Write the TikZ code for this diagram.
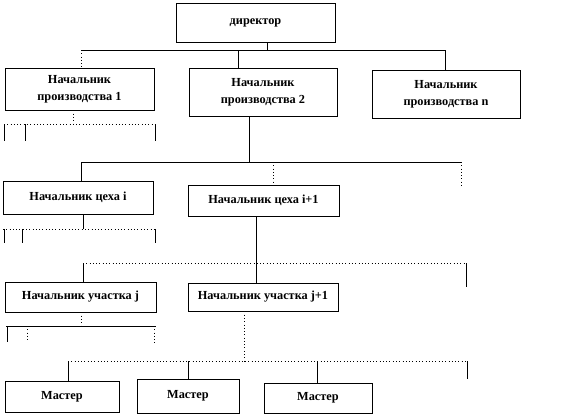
\documentclass[tikz,border=0pt]{standalone}
\usepackage{fontspec}
\setmainfont{Liberation Serif}

\begin{document}
\begin{tikzpicture}[
    x=0.03cm, y=-0.03cm,
    box/.style={draw, line width=0.7pt, align=center, inner sep=1pt,
        font=\bfseries\fontsize{10.5}{14.5}\selectfont},
    link/.style={draw, line width=0.8pt},
    dotlink/.style={draw, line width=0.8pt, dotted}
]
    \useasboundingbox (0,0) rectangle (578,416);

    % boxes
    \node[box, minimum width=4.77cm, minimum height=1.17cm] (dir) at (255.5,22.5) {директор};
    \node[box, minimum width=4.47cm, minimum height=1.26cm] (p1)  at (79.5,89)    {Начальник\\производства 1};
    \node[box, minimum width=4.44cm, minimum height=1.44cm] (p2)  at (263,92)     {Начальник\\производства 2};
    \node[box, minimum width=4.44cm, minimum height=1.44cm] (pn)  at (446,94)     {Начальник\\производства n};
    \node[box, minimum width=4.50cm, minimum height=0.99cm] (ci)  at (78,197.5)   {Начальник цеха i};
    \node[box, minimum width=4.53cm, minimum height=0.93cm] (ci1) at (263.5,200.5) {Начальник цеха i+1};
    \node[box, minimum width=4.53cm, minimum height=0.90cm] (uj)  at (80.5,297)   {Начальник участка j};
    \node[box, minimum width=4.50cm, minimum height=0.84cm] (uj1) at (263,297)    {Начальник участка j+1};
    \node[box, minimum width=3.42cm, minimum height=0.93cm] (m1)  at (62,396.5)   {Мастер};
    \node[box, minimum width=3.06cm, minimum height=1.02cm] (m2)  at (188,396)    {Мастер};
    \node[box, minimum width=3.24cm, minimum height=0.90cm] (m3)  at (318,398)    {Мастер};

    % director -> heads of production
    \coordinate (db) at (267,50);
    \coordinate (dl) at (81,50);
    \coordinate (dm) at (238,50);
    \coordinate (dr) at (445,50);
    \draw[link] (dir.south -| db) -- (db);
    \draw[link] (dl) -- (dr);
    \draw[dotlink] (dl) -- (dl |- p1.north);
    \draw[link] (dm) -- (dm |- p2.north);
    \draw[link] (dr) -- (dr |- pn.north);

    % stub under production 1
    \coordinate (p1s) at (73,124);
    \draw[dotlink] (p1.south -| p1s) -- (p1s);
    \coordinate (p1l) at (4,124);
    \coordinate (p1r) at (155,124);
    \draw[dotlink] (p1l) -- (p1r);
    \foreach \x/\n in {4/a, 25/b, 155/c} {
        \coordinate (p1\n) at (\x,141);
        \draw[link] (p1\n |- p1s) -- (p1\n);
    }

    % production 2 -> shops
    \coordinate (cb) at (249,162);
    \coordinate (cl) at (81,162);
    \coordinate (cm) at (273,162);
    \coordinate (cr) at (461,162);
    \coordinate (crs) at (461,185);
    \draw[link] (p2.south -| cb) -- (cb);
    \draw[link] (cl) -- (cr);
    \draw[link] (cl) -- (cl |- ci.north);
    \draw[dotlink] (cm) -- (cm |- ci1.north);
    \draw[dotlink] (cr) -- (crs);

    % stub under shop i
    \coordinate (cis) at (83,229);
    \draw[link] (ci.south -| cis) -- (cis);
    \coordinate (cil) at (3,229);
    \coordinate (cir) at (155,229);
    \draw[dotlink] (cil) -- (cir);
    \foreach \x/\n in {4/a, 22/b, 155/c} {
        \coordinate (ci\n) at (\x,243);
        \draw[link] (ci\n |- cis) -- (ci\n);
    }

    % shop i+1 -> sections
    \coordinate (ub) at (256,263);
    \coordinate (ul) at (83,263);
    \coordinate (ur) at (466,263);
    \coordinate (urs) at (466,287);
    \draw[link] (ci1.south -| ub) -- (ub);
    \draw[dotlink] (ul) -- (ur);
    \draw[link] (ul) -- (ul |- uj.north);
    \draw[link] (ub) -- (ub |- uj1.north);
    \draw[link] (ur) -- (urs);

    % stub under section j
    \coordinate (ujs) at (81,326);
    \draw[dotlink] (uj.south -| ujs) -- (ujs);
    \coordinate (ujl) at (6,326);
    \coordinate (ujr) at (156,326);
    \draw[link] (ujl) -- (ujr);
    \coordinate (uja) at (7,342);
    \coordinate (ujb) at (27,342);
    \coordinate (ujc) at (154,345);
    \draw[link] (uja |- ujs) -- (uja);
    \draw[dotlink] (ujb |- ujs) -- (ujb);
    \draw[dotlink] (ujc |- ujs) -- (ujc);

    % section j+1 -> masters
    \coordinate (mb) at (244,361);
    \coordinate (ml) at (68,361);
    \coordinate (mm) at (188,361);
    \coordinate (mn) at (317,361);
    \coordinate (mr) at (467,361);
    \coordinate (mrs) at (467,379);
    \draw[dotlink] (uj1.south -| mb) -- (mb);
    \draw[dotlink] (ml) -- (mr);
    \draw[link] (ml) -- (ml |- m1.north);
    \draw[link] (mm) -- (mm |- m2.north);
    \draw[link] (mn) -- (mn |- m3.north);
    \draw[link] (mr) -- (mrs);
\end{tikzpicture}
\end{document}
